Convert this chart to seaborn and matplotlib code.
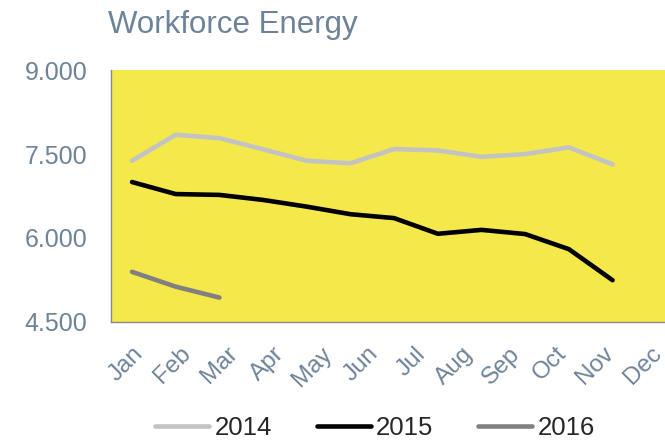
import pandas as pd
import numpy as np
import matplotlib.pyplot as plt
import seaborn as sns
from matplotlib.ticker import FuncFormatter

months = ['Jan', 'Feb', 'Mar', 'Apr', 'May', 'Jun', 'Jul', 'Aug', 'Sep', 'Oct', 'Nov', 'Dec']
energy_2014 = [7380, 7845, 7785, 7585, 7380, 7335, 7590, 7565, 7450, 7500, 7620, 7315]
energy_2015 = [7000, 6785, 6770, 6680, 6560, 6425, 6355, 6075, 6145, 6070, 5800, 5245]
energy_2016 = [5395, 5130, 4935]
years = ['2014', '2015', '2016']
colors = ['#C3C3C3', '#000000', '#808080']

rows = []
for year, vals in zip(years, [energy_2014, energy_2015, energy_2016]):
    for i, v in enumerate(vals):
        rows.append({'Month': i, 'Year': year, 'Energy': v})
df = pd.DataFrame(rows)

sns.set_style('white')
plt.rcParams['font.family'] = ['Liberation Sans', 'DejaVu Sans']
text_col = '#6E8399'

fig = plt.figure(figsize=(6.65, 4.44), dpi=100)
ax = fig.add_axes([0.167, 0.275, 0.833, 0.567])
ax.set_facecolor('#F5E84A')

sns.lineplot(data=df, x='Month', y='Energy', hue='Year', palette=colors,
             linewidth=3.3, ax=ax, legend=False, solid_capstyle='round')

ax.set_xlim(-0.48, 12.2)
ax.set_ylim(4500, 9000)
ax.set_yticks([4500, 6000, 7500, 9000])
ax.yaxis.set_major_formatter(FuncFormatter(lambda v, p: f'{v:,.0f}'.replace(',', '.')))

# month labels in the original are spread a bit wider than the data points
label_spread = 1.078
ax.set_xticks(np.arange(12) * label_spread)
ax.set_xticklabels(months, rotation=45, ha='right', rotation_mode='anchor')
ax.tick_params(axis='both', colors=text_col, length=0)
ax.tick_params(axis='y', labelsize=18, pad=17)
ax.tick_params(axis='x', labelsize=17.5, pad=15)
ax.set_xlabel('')
ax.set_ylabel('')
for s in ['top', 'right']:
    ax.spines[s].set_visible(False)
for s in ['left', 'bottom']:
    ax.spines[s].set_color('#888888')
    ax.spines[s].set_linewidth(1)

fig.text(0.162, 0.926, 'Workforce Energy', color=text_col, fontsize=22.5)

handles = [plt.Line2D([0], [0], color=c, lw=3.3, solid_capstyle='round') for c in colors]
fig.legend(handles, years, loc='center', bbox_to_anchor=(0.564, 0.035), ncol=3,
           frameon=False, fontsize=18.5, handlelength=2.1, handletextpad=0.2,
           columnspacing=1.75, borderpad=0)

plt.savefig('out.png', dpi=100)
